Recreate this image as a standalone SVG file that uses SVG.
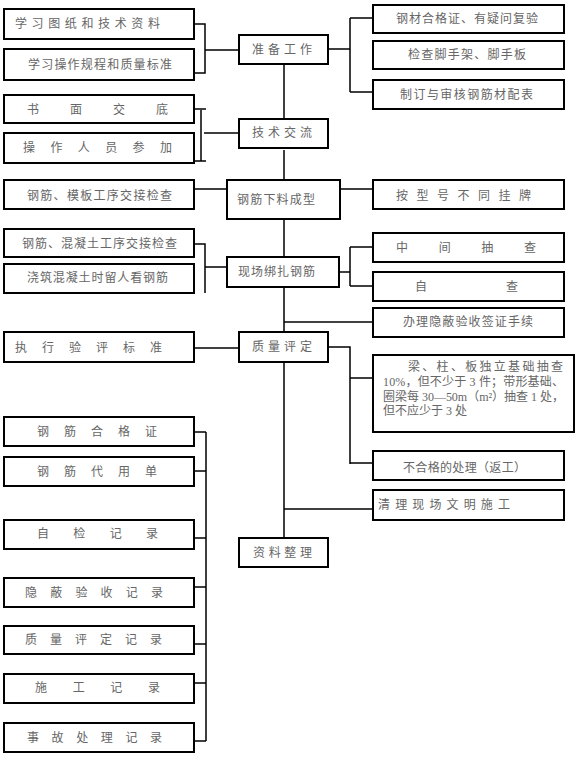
<svg xmlns="http://www.w3.org/2000/svg" width="576" height="757" viewBox="0 0 576 757">
<style>
.box{fill:#fff;stroke:#000;stroke-width:2}
.t{font-family:"Liberation Serif","Noto Sans CJK SC",serif;font-size:12px;fill:#666;dominant-baseline:central}
.c{fill:none;stroke:#000;stroke-width:1.5}
</style>
<rect width="576" height="757" fill="#fff"/>
<g id="connectors" class="c">
<path d="M194,24 H205 V73 H194 M205,50 H239"/>
<path d="M328,49 H350 M350,18 V92 M350,18 H373 M350,92 H373"/>
<path d="M194,109 H206 M201,110 V161 M194,161 H206 M204,133 H239"/>
<path d="M284,64 V119 M284,150 V180 M284,219 V257 M284,287 V332 M284,362 V538"/>
<path d="M194,189 H227 M340,189 H373"/>
<path d="M194,244 H205 V293 M205,267 H227"/>
<path d="M339,272 H350 M350,247 V286 M350,247 H373 M350,286 H373"/>
<path d="M284,322 H373"/>
<path d="M194,348 H239"/>
<path d="M328,347 H350 V464 M350,378 H373 M350,463 H373"/>
<path d="M284,509 H373"/>
<path d="M206,432 V741 M194,432 H206 M194,471 H206 M194,538 H206 M194,587 H206 M194,644 H206 M194,683 H206 M194,741 H206"/>
</g>
<g id="n1"><rect class="box" x="4" y="9" width="190" height="30"/><text class="t" x="15" y="24" textLength="145" lengthAdjust="spacing">学习图纸和技术资料</text></g>
<g id="n2"><rect class="box" x="4" y="49" width="190" height="31"/><text class="t" x="28" y="65" textLength="144" lengthAdjust="spacing">学习操作规程和质量标准</text></g>
<g id="n3"><rect class="box" x="4" y="95" width="190" height="28"/><text class="t" x="27" y="110" textLength="141" lengthAdjust="spacing">书面交底</text></g>
<g id="n4"><rect class="box" x="4" y="133" width="190" height="30"/><text class="t" x="23" y="148" textLength="149" lengthAdjust="spacing">操作人员参加</text></g>
<g id="n5"><rect class="box" x="239" y="35" width="89" height="29"/><text class="t" x="252" y="50" textLength="60" lengthAdjust="spacing">准备工作</text></g>
<g id="n6"><rect class="box" x="239" y="119" width="89" height="29"/><text class="t" x="252" y="133" textLength="60" lengthAdjust="spacing">技术交流</text></g>
<g id="n7"><rect class="box" x="227" y="180" width="113" height="39"/><text class="t" x="237" y="200" textLength="78" lengthAdjust="spacing">钢筋下料成型</text></g>
<g id="n8"><rect class="box" x="373" y="5" width="191" height="28"/><text class="t" x="396" y="19" textLength="142" lengthAdjust="spacing">钢材合格证、有疑问复验</text></g>
<g id="n9"><rect class="box" x="373" y="41" width="191" height="28"/><text class="t" x="408" y="55" textLength="118" lengthAdjust="spacing">检查脚手架、脚手板</text></g>
<g id="n10"><rect class="box" x="373" y="80" width="191" height="29"/><text class="t" x="400" y="95" textLength="133" lengthAdjust="spacing">制订与审核钢筋材配表</text></g>
<g id="n11"><rect class="box" x="4" y="180" width="190" height="29"/><text class="t" x="27" y="196" textLength="145" lengthAdjust="spacing">钢筋、模板工序交接检查</text></g>
<g id="n12"><rect class="box" x="373" y="180" width="191" height="29"/><text class="t" x="396" y="196" textLength="135" lengthAdjust="spacing">按型号不同挂牌</text></g>
<g id="n13"><rect class="box" x="4" y="229" width="190" height="28"/><text class="t" x="22" y="244" textLength="155" lengthAdjust="spacing">钢筋、混凝土工序交接检查</text></g>
<g id="n14"><rect class="box" x="4" y="264" width="190" height="29"/><text class="t" x="27" y="278" textLength="141" lengthAdjust="spacing">浇筑混凝土时留人看钢筋</text></g>
<g id="n15"><rect class="box" x="227" y="257" width="112" height="30"/><text class="t" x="238" y="272" textLength="77" lengthAdjust="spacing">现场绑扎钢筋</text></g>
<g id="n16"><rect class="box" x="373" y="233" width="191" height="29"/><text class="t" x="396" y="248" textLength="140" lengthAdjust="spacing">中间抽查</text></g>
<g id="n17"><rect class="box" x="373" y="272" width="191" height="29"/><text class="t" x="415" y="287" textLength="103" lengthAdjust="spacing">自查</text></g>
<g id="n18"><rect class="box" x="373" y="308" width="191" height="29"/><text class="t" x="403" y="322" textLength="130" lengthAdjust="spacing">办理隐蔽验收签证手续</text></g>
<g id="n19"><rect class="box" x="4" y="332" width="190" height="30"/><text class="t" x="15" y="348" textLength="147" lengthAdjust="spacing">执行验评标准</text></g>
<g id="n20"><rect class="box" x="239" y="332" width="89" height="30"/><text class="t" x="252" y="347" textLength="60" lengthAdjust="spacing">质量评定</text></g>
<g id="n21"><rect class="box" x="373" y="355" width="201" height="77"/>
<text class="t" x="408" y="367" textLength="155" lengthAdjust="spacing">梁、柱、板独立基础抽查</text>
<text class="t" x="383" y="382" textLength="181" lengthAdjust="spacing">10%，但不少于 3 件；带形基础、</text>
<text class="t" x="383" y="397" textLength="181" lengthAdjust="spacing">圈梁每 30—50m（m²）抽查 1 处，</text>
<text class="t" x="383" y="411">但不应少于 3 处</text></g>
<g id="n22"><rect class="box" x="373" y="451" width="191" height="29"/><text class="t" x="403" y="468" textLength="123" lengthAdjust="spacing">不合格的处理（返工）</text></g>
<g id="n23"><rect class="box" x="373" y="490" width="191" height="30"/><text class="t" x="378" y="505" textLength="132" lengthAdjust="spacing">清理现场文明施工</text></g>
<g id="n24"><rect class="box" x="239" y="538" width="89" height="29"/><text class="t" x="253" y="553" textLength="59" lengthAdjust="spacing">资料整理</text></g>
<g id="n25"><rect class="box" x="4" y="417" width="190" height="29"/><text class="t" x="37" y="432" textLength="120" lengthAdjust="spacing">钢筋合格证</text></g>
<g id="n26"><rect class="box" x="4" y="457" width="190" height="29"/><text class="t" x="37" y="472" textLength="120" lengthAdjust="spacing">钢筋代用单</text></g>
<g id="n27"><rect class="box" x="4" y="520" width="190" height="29"/><text class="t" x="37" y="534" textLength="121" lengthAdjust="spacing">自检记录</text></g>
<g id="n28"><rect class="box" x="4" y="578" width="190" height="29"/><text class="t" x="25" y="593" textLength="138" lengthAdjust="spacing">隐蔽验收记录</text></g>
<g id="n29"><rect class="box" x="4" y="626" width="190" height="28"/><text class="t" x="25" y="640" textLength="137" lengthAdjust="spacing">质量评定记录</text></g>
<g id="n30"><rect class="box" x="4" y="674" width="190" height="29"/><text class="t" x="35" y="688" textLength="125" lengthAdjust="spacing">施工记录</text></g>
<g id="n31"><rect class="box" x="4" y="723" width="190" height="29"/><text class="t" x="27" y="738" textLength="135" lengthAdjust="spacing">事故处理记录</text></g>
</svg>
